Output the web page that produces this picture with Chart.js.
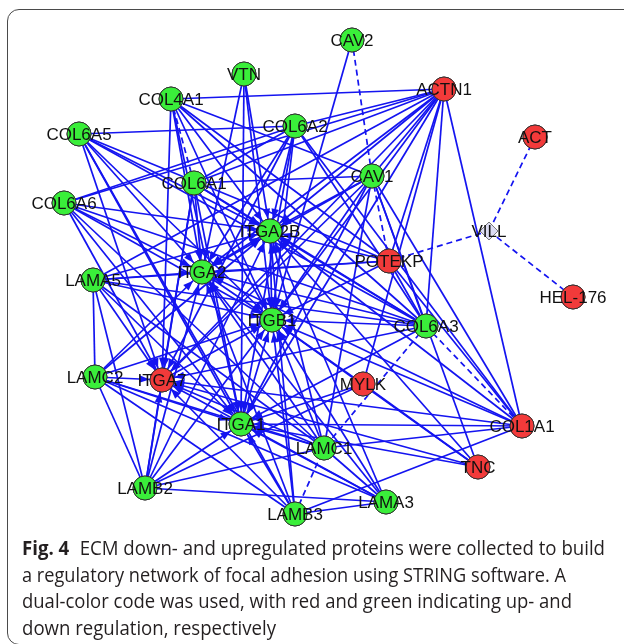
<!DOCTYPE html>
<html>
<head>
<meta charset="utf-8">
<script src="https://cdn.jsdelivr.net/npm/chart.js@4.4.1/dist/chart.umd.min.js"></script>
<style>
  html, body { margin: 0; padding: 0; background: #fff; }
  body { width: 624px; height: 644px; position: relative; overflow: hidden; }
  #frame {
    position: absolute; left: 7px; top: 9px; width: 650px; height: 636px;
    border: 1.5px solid #4a4a4a; border-radius: 12px; box-sizing: border-box;
  }
  #plot { position: absolute; left: 0; top: 0; }
  #caption {
    position: absolute; left: 22px; top: 535px;
    font-family: "Open Sans", sans-serif; font-size: 20px; line-height: 26.5px;
    color: #231f20;
  }
  #caption div { white-space: nowrap; width: max-content; transform-origin: 0 50%; }
  #caption b { font-weight: 700; margin-right: 6px; }
</style>
</head>
<body>
<div id="frame"></div>
<canvas id="plot" width="624" height="535"></canvas>
<div id="caption">
  <div data-w="583"><b>Fig. 4</b> ECM down- and upregulated proteins were collected to build</div>
  <div data-w="544">a regulatory network of focal adhesion using STRING software. A</div>
  <div data-w="550">dual-color code was used, with red and green indicating up- and</div>
  <div data-w="254">down regulation, respectively</div>
</div>
<script>
// Network layout: proteins, their layout position and regulation
const nodeNames = ['CAV2','VTN','ACTN1','COL4A1','COL6A2','COL6A5','ACT','COL6A1','CAV1','COL6A6',
  'ITGA2B','VILL','POTEKP','LAMA5','ITGA2','HEL-176','ITGB1','COL6A3','LAMC2','ITGA7',
  'MYLK','COL1A1','ITGA1','LAMC1','TNC','LAMB2','LAMB3','LAMA3'];
const nodeX = [352,244,444,171,295,79,535,194,372,64,
  270,489,389,93,202,573,272,426,95,162,
  363,522,241,324,478,145,295,386];
const nodeY = [40,74,89,99,126,134,137,183,176,203,
  231,231,261,280,272,297,320,326,377,380,
  384,426,424,448,467,488,514,502];
const nodeRegulation = ['down','down','up','down','down','down','up','down','down','down',
  'down','none','up','down','down','up','down','down','down','up',
  'up','up','down','down','up','down','down','down'];

// Integrin receptors (edges into them carry an arrowhead)
const receptors = ['ITGA2B','ITGA2','ITGB1','ITGA1','ITGA7'];

// Ligands and the receptors they point to
const ligandNames = ['COL4A1','COL6A1','COL6A2','COL6A3','COL6A5','COL6A6','COL1A1','LAMA5','LAMC2',
  'LAMC1','LAMB2','LAMB3','LAMA3','VTN','TNC','ACTN1','CAV1','CAV2','POTEKP','MYLK',
  'ITGA2B','ITGA2','ITGA7','ITGA1'];
const ligandTargets = [
  ['ITGA2B','ITGA2','ITGB1','ITGA1','ITGA7'],
  ['ITGA2B','ITGA2','ITGB1','ITGA1','ITGA7'],
  ['ITGA2B','ITGA2','ITGB1','ITGA1','ITGA7'],
  ['ITGA2B','ITGA2','ITGB1','ITGA1','ITGA7'],
  ['ITGA2B','ITGA2','ITGB1','ITGA1','ITGA7'],
  ['ITGA2B','ITGA2','ITGB1','ITGA1','ITGA7'],
  ['ITGA2B','ITGA2','ITGB1','ITGA1','ITGA7'],
  ['ITGA2B','ITGA2','ITGB1','ITGA1','ITGA7'],
  ['ITGA2B','ITGA2','ITGB1','ITGA1','ITGA7'],
  ['ITGA2B','ITGA2','ITGB1','ITGA1','ITGA7'],
  ['ITGA2B','ITGA2','ITGB1','ITGA1','ITGA7'],
  ['ITGA2B','ITGA2','ITGB1','ITGA1','ITGA7'],
  ['ITGA2B','ITGA2','ITGB1','ITGA1','ITGA7'],
  ['ITGA2B','ITGA2','ITGB1','ITGA1'],
  ['ITGA2B','ITGB1','ITGA1','ITGA7'],
  ['ITGA2B','ITGA2','ITGB1','ITGA1','ITGA7'],
  ['ITGA2B','ITGA2','ITGB1','ITGA1','ITGA7'],
  ['ITGB1'],
  ['ITGA2B','ITGA2','ITGB1'],
  ['ITGB1','ITGA1'],
  ['ITGB1'],
  ['ITGB1','ITGA2B'],
  ['ITGB1'],
  ['ITGB1']
];

// Undirected associations
const solidPairs = [
  ['COL4A1','ACTN1'],['COL4A1','CAV1'],['COL4A1','COL6A3'],['COL4A1','POTEKP'],
  ['COL6A5','COL6A2'],['COL6A5','POTEKP'],['COL6A5','COL6A3'],['COL6A5','LAMB3'],
  ['COL6A6','COL6A2'],['COL6A6','ACTN1'],['COL6A6','COL6A3'],['COL6A6','LAMC1'],
  ['COL6A1','CAV1'],['COL6A1','ACTN1'],['COL6A1','COL6A2'],['COL6A1','COL6A3'],['COL6A1','LAMB2'],
  ['COL6A2','ACTN1'],['COL6A2','COL6A3'],['COL6A2','COL1A1'],
  ['ACTN1','CAV1'],['ACTN1','POTEKP'],['ACTN1','COL6A3'],['ACTN1','COL1A1'],['ACTN1','MYLK'],['ACTN1','LAMA5'],
  ['CAV1','COL6A3'],['CAV1','COL1A1'],['CAV1','LAMC1'],['CAV1','TNC'],
  ['POTEKP','COL6A3'],['POTEKP','COL1A1'],['POTEKP','LAMA5'],
  ['COL1A1','LAMC1'],['COL1A1','LAMB3'],
  ['LAMA5','LAMC2'],['LAMA5','LAMC1'],['LAMA5','COL6A3'],['LAMA5','LAMB2'],
  ['LAMC2','LAMB3'],['LAMC2','LAMA3'],['LAMC2','LAMB2'],['LAMC2','LAMC1'],
  ['LAMB2','LAMA3'],['LAMB2','LAMC1'],['LAMB2','MYLK'],
  ['LAMB3','LAMA3'],['LAMA3','LAMC1'],['MYLK','TNC']
];
const dashedPairs = [
  ['CAV2','CAV1'],['CAV1','POTEKP'],['COL4A1','COL6A1'],['POTEKP','VILL'],['VILL','ACT'],
  ['VILL','HEL-176'],['COL6A3','COL1A1'],['COL6A3','LAMC1'],['LAMB3','LAMC1']
];

const idx = n => nodeNames.indexOf(n);
const EDGE = '#1414f0';

// one line dataset per edge, drawn from the node coordinates
const edgeSets = [];
function addEdge(a, b, dashed, arrow) {
  const i = idx(a), j = idx(b);
  edgeSets.push({
    type: 'line',
    data: [{x: nodeX[i], y: nodeY[i]}, {x: nodeX[j], y: nodeY[j]}],
    borderColor: EDGE, borderWidth: 1.7,
    borderDash: dashed ? [6, 4] : [],
    pointRadius: 0, fill: false, order: 2,
    arrow: arrow
  });
}
ligandNames.forEach((s, k) => ligandTargets[k].forEach(t => addEdge(s, t, false, true)));
solidPairs.forEach(p => addEdge(p[0], p[1], false, receptors.includes(p[1])));
dashedPairs.forEach(p => addEdge(p[0], p[1], true, false));

const fillFor = r => r === 'up' ? '#f23a3a' : (r === 'down' ? '#3aee3a' : '#dcdcf2');

// arrowheads at the receptor end of each directed edge
const arrowPlugin = {
  id: 'arrowheads',
  afterDatasetsDraw(chart) {
    const ctx = chart.ctx;
    const xs = chart.scales.x, ys = chart.scales.y;
    chart.data.datasets.forEach(ds => {
      if (!ds.arrow) return;
      const p0 = ds.data[0], p1 = ds.data[1];
      const x0 = xs.getPixelForValue(p0.x), y0 = ys.getPixelForValue(p0.y);
      const x1 = xs.getPixelForValue(p1.x), y1 = ys.getPixelForValue(p1.y);
      const dx = x1 - x0, dy = y1 - y0, len = Math.hypot(dx, dy);
      const ux = dx / len, uy = dy / len;
      const tx = x1 - ux * 12.5, ty = y1 - uy * 12.5;
      const bx = tx - ux * 10, by = ty - uy * 10;
      ctx.save();
      ctx.fillStyle = EDGE;
      ctx.beginPath();
      ctx.moveTo(tx, ty);
      ctx.lineTo(bx - uy * 3.8, by + ux * 3.8);
      ctx.lineTo(bx + uy * 3.8, by - ux * 3.8);
      ctx.closePath();
      ctx.fill();
      ctx.restore();
    });
    // nodes on top of edges and arrowheads
    chart.getDatasetMeta(0).controller.draw();
    // protein labels
    ctx.save();
    ctx.font = '17px "Liberation Sans", Arial, sans-serif';
    ctx.fillStyle = '#111';
    ctx.textAlign = 'center';
    ctx.textBaseline = 'middle';
    nodeNames.forEach((n, i) => {
      ctx.fillText(n, xs.getPixelForValue(nodeX[i]), ys.getPixelForValue(nodeY[i]) + 1);
    });
    ctx.restore();
  }
};

new Chart(document.getElementById('plot'), {
  type: 'scatter',
  data: {
    datasets: [{
      data: nodeNames.map((n, i) => ({x: nodeX[i], y: nodeY[i]})),
      pointRadius: nodeRegulation.map(r => r === 'none' ? 9 : 12),
      pointStyle: nodeRegulation.map(r => r === 'none' ? 'rectRot' : 'circle'),
      pointBackgroundColor: nodeRegulation.map(fillFor),
      pointBorderColor: nodeRegulation.map(r => r === 'none' ? '#777' : '#333'),
      pointBorderWidth: 1,
      order: 0
    }].concat(edgeSets)
  },
  options: {
    responsive: false, animation: false, events: [],
    layout: { padding: 0, autoPadding: false },
    plugins: { legend: { display: false }, tooltip: { enabled: false } },
    scales: {
      x: { type: 'linear', min: 0, max: 624, display: false },
      y: { type: 'linear', min: 0, max: 535, reverse: true, display: false }
    }
  },
  plugins: [arrowPlugin]
});

// fit each caption line to its column width
document.querySelectorAll('#caption div').forEach(d => {
  const w = d.getBoundingClientRect().width;
  d.style.transform = 'scaleX(' + (parseFloat(d.dataset.w) / w) + ')';
});
</script>
</body>
</html>
